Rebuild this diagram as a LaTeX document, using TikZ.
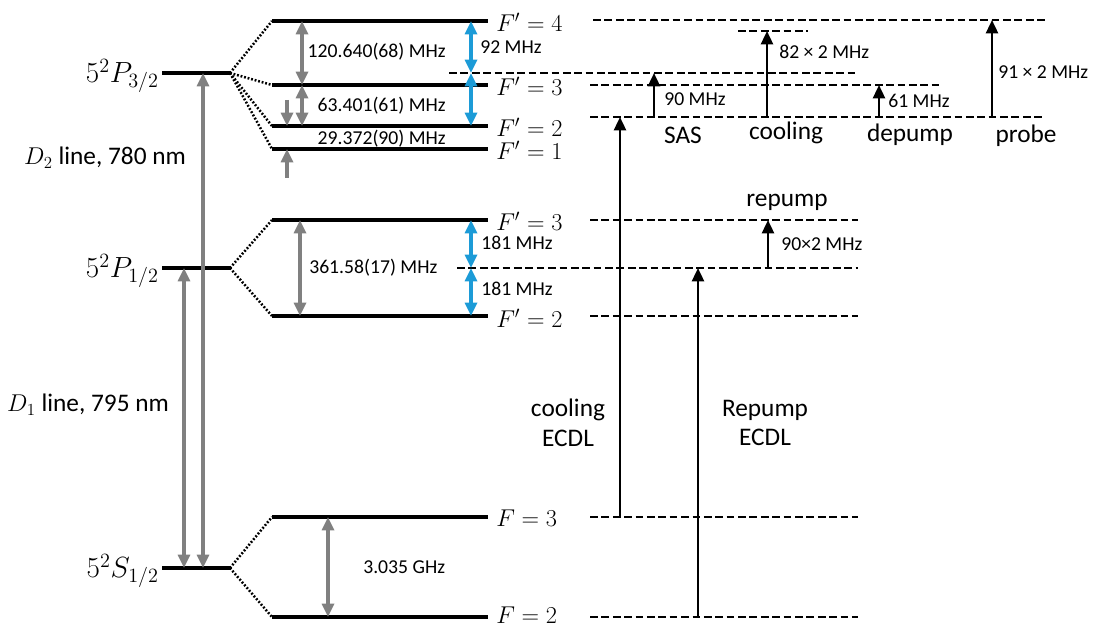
\documentclass[tikz,border=0pt]{standalone}
\usepackage[no-math]{fontspec}
\setmainfont{Carlito}
\usetikzlibrary{arrows.meta}
\definecolor{gr}{RGB}{128,128,128}
\definecolor{bl}{RGB}{28,155,215}
\begin{document}
\begin{tikzpicture}[x=0.025cm,y=-0.025cm,
  lvl/.style={line width=2.3pt},
  dl/.style={line width=1.8pt, dash pattern=on 5.5pt off 2.6pt},
  dotc/.style={line width=1.8pt, dash pattern=on 1.3pt off 1.3pt},
  gtip/.tip={Triangle[width=8.5pt,length=9.5pt]},
  garr/.style={draw=gr, line width=2.3pt, -gtip},
  gdbl/.style={draw=gr, line width=2.3pt, gtip-gtip},
  bdbl/.style={draw=bl, line width=2.3pt, gtip-gtip},
  karr/.style={draw=black, line width=1.8pt, -{Triangle[width=8.5pt,length=9.5pt]}},
  mlbl/.style={font=\fontsize{17.5}{20}\selectfont, inner sep=0pt},
  blbl/.style={font=\fontsize{20}{24}\selectfont, inner sep=0pt},
  mhz/.style={font=\fontsize{14}{16}\selectfont, inner sep=0pt},
  word/.style={font=\fontsize{18}{21}\selectfont, inner sep=0pt, align=center}
]
\useasboundingbox (0,0) rectangle (1097,628);

% fine-structure levels
\coordinate (P3a) at (162,73);  \coordinate (P3b) at (230,73);
\coordinate (P1a) at (162,268); \coordinate (P1b) at (230,268);
\coordinate (S1a) at (162,568); \coordinate (S1b) at (230,568);
\draw[lvl] (P3a) -- (P3b);
\draw[lvl] (P1a) -- (P1b);
\draw[lvl] (S1a) -- (S1b);

% hyperfine levels
\foreach \n/\y in {A4/21,A3/85,A2/126,A1/149,B3/220,B2/316,C3/517,C2/617}{
  \coordinate (\n l) at (272,\y);
  \coordinate (\n r) at (488,\y);
  \draw[lvl] (\n l) -- (\n r);
}

% dotted splitting connectors
\foreach \n in {A4,A3,A2,A1}{\draw[dotc] (P3b) -- (\n l);}
\foreach \n in {B3,B2}{\draw[dotc] (P1b) -- (\n l);}
\foreach \n in {C3,C2}{\draw[dotc] (S1b) -- (\n l);}

% labels of fine-structure levels
\node[blbl, anchor=east] (lP3) at (159,76) {$5^2P_{3/2}$};
\node[blbl, anchor=east] (lP1) at (159,271) {$5^2P_{1/2}$};
\node[blbl, anchor=east] (lS1) at (159,571) {$5^2S_{1/2}$};
\node[word] (D2) at (105,158) {$D_2$ line, 780 nm};
\node[word] (D1) at (88,405) {$D_1$ line, 795 nm};

% hyperfine labels
\node[mlbl, anchor=west] (fA4) at (496,22) {$F' = 4$};
\node[mlbl, anchor=west] (fA3) at (496,86) {$F' = 3$};
\node[mlbl, anchor=west] (fA2) at (496,127) {$F' = 2$};
\node[mlbl, anchor=west] (fA1) at (496,150) {$F' = 1$};
\node[mlbl, anchor=west] (fB3) at (496,221) {$F' = 3$};
\node[mlbl, anchor=west] (fB2) at (496,318) {$F' = 2$};
\node[mlbl, anchor=west] (fC3) at (496,518) {$F = 3$};
\node[mlbl, anchor=west] (fC2) at (496,615) {$F = 2$};

% gray transitions
\coordinate (d2s) at (203,568); \coordinate (d2p) at (203,73);
\coordinate (d1s) at (184,568); \coordinate (d1p) at (184,268);
\draw[gdbl] (d2s) -- (d2p);
\draw[gdbl] (d1s) -- (d1p);
\coordinate (g1a) at (302,21);  \coordinate (g1b) at (302,85);
\coordinate (g2b) at (302,126);
\draw[gdbl] (g1a) -- (g1b);
\draw[gdbl] (g1b) -- (g2b);
\coordinate (g3a) at (287,100); \coordinate (g3b) at (287,126);
\draw[garr] (g3a) -- (g3b);
\coordinate (g4a) at (287,178); \coordinate (g4b) at (287,149);
\draw[garr] (g4a) -- (g4b);
\coordinate (g5a) at (300,220); \coordinate (g5b) at (300,316);
\draw[gdbl] (g5a) -- (g5b);
\coordinate (g6a) at (328,517); \coordinate (g6b) at (328,617);
\draw[gdbl] (g6a) -- (g6b);

\node[mhz, anchor=east] (t120) at (446,52) {120.640(68) MHz};
\node[mhz, anchor=east] (t63) at (446,106) {63.401(61) MHz};
\node[mhz, anchor=east] (t29) at (446,139) {29.372(90) MHz};
\node[mhz, anchor=west] (t361) at (309,268) {361.58(17) MHz};
\node[mhz, anchor=west] (t3035) at (363,567) {3.035 GHz};

% dashed laser levels
\coordinate (e1a) at (593,20);  \coordinate (e1b) at (1047,20);
\coordinate (e2a) at (738,31);  \coordinate (e2b) at (808,31);
\coordinate (e3a) at (449,73);  \coordinate (e3b) at (858,73);
\coordinate (e4a) at (590,85);  \coordinate (e4b) at (942,85);
\coordinate (e5a) at (590,117); \coordinate (e5b) at (1043,117);
\coordinate (e6a) at (590,220); \coordinate (e6b) at (858,220);
\coordinate (e7a) at (457,268); \coordinate (e7b) at (858,268);
\coordinate (e8a) at (590,316); \coordinate (e8b) at (858,316);
\coordinate (e9a) at (590,517); \coordinate (e9b) at (858,517);
\coordinate (e0a) at (590,617); \coordinate (e0b) at (858,617);
\foreach \n in {1,2,3,4,5,6,7,8,9,0}{\draw[dl] (e\n a) -- (e\n b);}

% blue detunings
\coordinate (b1a) at (471,21);  \coordinate (b1m) at (471,73);  \coordinate (b1b) at (471,126);
\draw[bdbl] (b1a) -- (b1m);
\draw[bdbl] (b1m) -- (b1b);
\coordinate (b2a) at (471,220); \coordinate (b2m) at (471,268); \coordinate (b2b) at (471,316);
\draw[bdbl] (b2a) -- (b2m);
\draw[bdbl] (b2m) -- (b2b);
\node[mhz, anchor=west] (t92) at (480,47) {92 MHz};
\node[mhz, anchor=west] (t181a) at (481,243) {181 MHz};
\node[mhz, anchor=west] (t181b) at (481,289) {181 MHz};

% black laser arrows
\coordinate (k1a) at (620,517); \coordinate (k1b) at (620,117);
\coordinate (k2a) at (698,617); \coordinate (k2b) at (698,268);
\coordinate (k3a) at (654,117); \coordinate (k3b) at (654,73);
\coordinate (k4a) at (767,117); \coordinate (k4b) at (767,31);
\coordinate (k5a) at (879,117); \coordinate (k5b) at (879,85);
\coordinate (k6a) at (992,117); \coordinate (k6b) at (992,20);
\coordinate (k7a) at (768,268); \coordinate (k7b) at (768,220);
\foreach \n in {1,...,7}{\draw[karr] (k\n a) -- (k\n b);}

\node[mhz, anchor=west] (t90) at (664,99) {90 MHz};
\node[mhz, anchor=west] (t82) at (779,52) {82 × 2 MHz};
\node[mhz, anchor=west] (t61) at (888,101) {61 MHz};
\node[mhz, anchor=west] (t91) at (998,72) {91 × 2 MHz};
\node[mhz, anchor=west] (t902) at (781,244) {90×2 MHz};

\node[word] (wSAS) at (683,135) {SAS};
\node[word] (wcool) at (786,133) {cooling};
\node[word] (wdep) at (910,135) {depump};
\node[word] (wprobe) at (1026,136) {probe};
\node[word] (wrep) at (787,202) {repump};
\node[word] (wcE) at (568,423) {cooling\\ECDL};
\node[word] (wrE) at (765,423) {Repump\\ECDL};
\end{tikzpicture}
\end{document}
